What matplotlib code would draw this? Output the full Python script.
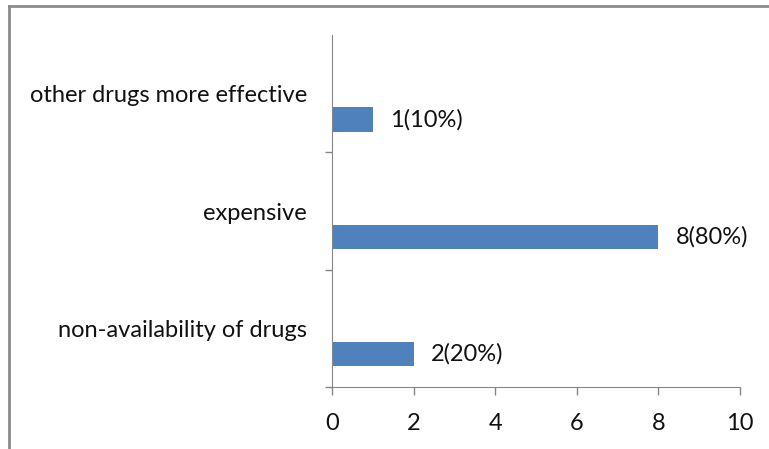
import matplotlib
matplotlib.use('Agg')
import matplotlib.pyplot as plt
from matplotlib.lines import Line2D

plt.rcParams['font.family'] = ['Lato', 'DejaVu Sans']

# reasons, bottom to top
reasons = ['non-availability of drugs', 'expensive', 'other drugs more effective']
counts = [2, 8, 1]
percents = [20, 80, 10]

bar_color = '#4F81BD'
axis_color = '#868686'
fs = 17

fig = plt.figure(figsize=(7.69, 4.49), dpi=100)
ax = fig.add_axes([332/769, 1 - 387/449, (740 - 332)/769, (387 - 35)/449])

pos = list(range(len(reasons)))
bars = ax.barh([p - 0.22 for p in pos], counts, height=0.205, color=bar_color)

for p, c, pc in zip(pos, counts, percents):
    ax.text(c + 0.42, p - 0.22, '%d(%d%%)' % (c, pc), va='center', ha='left',
            fontsize=fs, color='#111111')

ax.set_xlim(0, 10)
ax.set_ylim(-0.5, 2.5)
ax.set_xticks(range(0, 11, 2))
ax.set_yticks(pos)
ax.set_yticklabels(reasons)
ax.set_yticks([-0.5, 0.5, 1.5], minor=True)

ax.tick_params(axis='y', which='major', length=0, pad=18, labelsize=fs, labelcolor='#111111')
ax.tick_params(axis='y', which='minor', length=5, width=1, color=axis_color, direction='out')
ax.tick_params(axis='x', length=6, width=1, color=axis_color, direction='out', pad=13,
               labelsize=fs, labelcolor='#111111')

for s in ['top', 'right']:
    ax.spines[s].set_visible(False)
for s in ['left', 'bottom']:
    ax.spines[s].set_color(axis_color)

# outer chart frame
fig.add_artist(Line2D([9/769, 1.0], [1 - 6/449, 1 - 6/449], color='#8c8c8c', lw=2))
fig.add_artist(Line2D([9/769, 9/769], [0, 1 - 6/449], color='#8c8c8c', lw=2))

fig.savefig('out.png', dpi=100)
